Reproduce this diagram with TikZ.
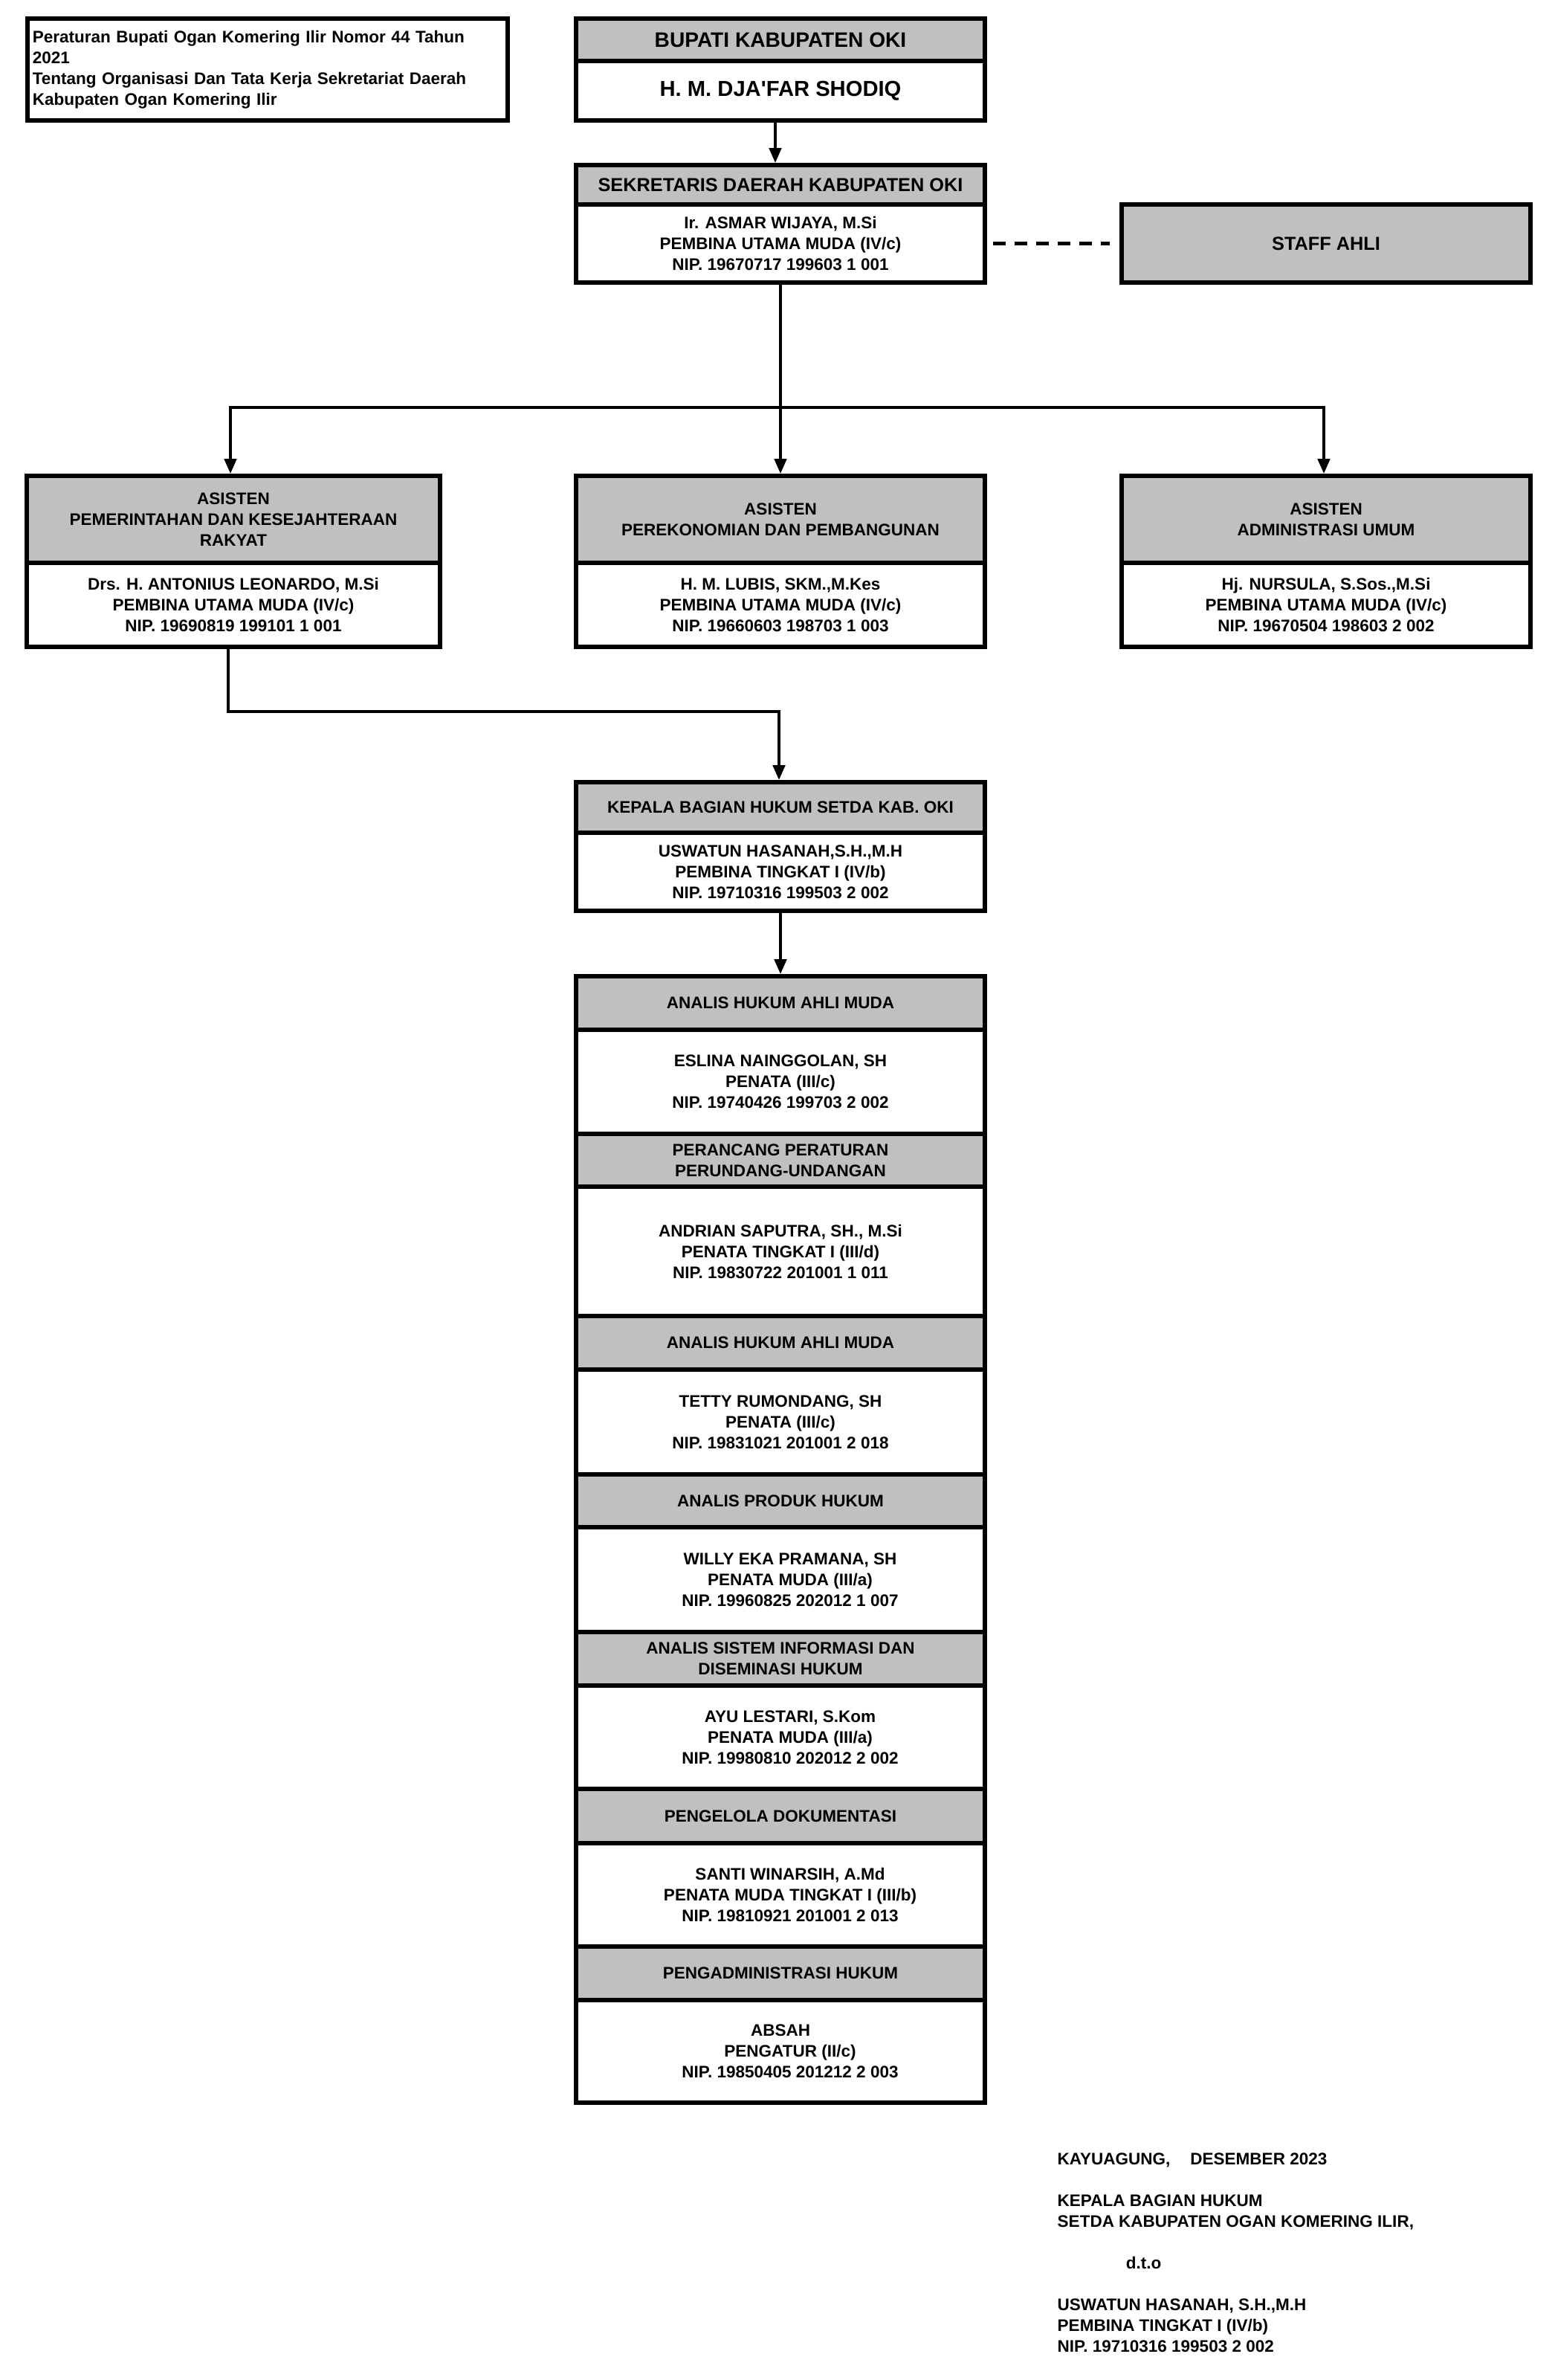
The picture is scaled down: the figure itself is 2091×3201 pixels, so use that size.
\documentclass[tikz,border=0pt]{standalone}
\usepackage{fontspec}
\setmainfont{Liberation Sans}
\newfontfamily\rawfont{Liberation Sans}
\usetikzlibrary{arrows.meta}
\definecolor{boxgray}{RGB}{192,192,192}
\newcommand\fnorm{\fontsize{6.4pt}{7.97pt}\selectfont\bfseries}
\newcommand\fmid{\fontsize{7.2pt}{8.5pt}\selectfont\bfseries}
\newcommand\fbupati{\fontsize{8.0pt}{9pt}\selectfont\bfseries}
\newcommand\fbigname{\fontsize{8.3pt}{10pt}\selectfont\bfseries}
\newcommand\sh{\hspace*{0.26cm}}
\begin{document}
\begin{tikzpicture}[x=0.01cm,y=-0.01cm,
  box/.style={draw=black, line width=1.56pt, inner sep=0pt, align=center, font=\fnorm, minimum width=5.5cm},
  hdr/.style={box, fill=boxgray},
  bdy/.style={box, fill=white},
  conn/.style={line width=1.25pt},
  arr/.style={conn, -{Triangle[length=0.2cm,width=0.16cm]}}]
\useasboundingbox (0,0) rectangle (2091,3201);

% legend
\node[draw=black, line width=1.56pt, inner xsep=0.07cm, inner ysep=0pt, text width=6.32cm, minimum height=1.37cm, align=left, font=\fnorm] (legend) at (360,93.5)
 {Peraturan Bupati Ogan Komering Ilir Nomor 44 Tahun\\2021\\Tentang Organisasi Dan Tata Kerja Sekretariat Daerah\\Kabupaten Ogan Komering Ilir};

% bupati
\node[hdr, font=\fbupati, minimum height=0.57cm] (bh) at (1050,53.5) {BUPATI KABUPATEN OKI};
\node[bdy, font=\fbigname, minimum height=0.80cm] (bb) at (1050,122) {H. M. DJA{\rawfont\bfseries '}FAR SHODIQ};

% sekda
\node[hdr, font=\fmid, minimum height=0.53cm] (sh) at (1050,248.5) {SEKRETARIS DAERAH KABUPATEN OKI};
\node[bdy, minimum height=1.05cm] (sb) at (1050,327.5) {Ir. ASMAR WIJAYA, M.Si\\PEMBINA UTAMA MUDA (IV/c)\\NIP. 19670717 199603 1 001};

% staff ahli
\node[hdr, font=\fmid, minimum height=1.05cm] (staff) at (1784,327.5) {STAFF AHLI};

% asisten
\node[hdr, minimum width=5.56cm, minimum height=1.17cm] (a1h) at (314,698.5) {ASISTEN\\PEMERINTAHAN DAN KESEJAHTERAAN\\RAKYAT};
\node[bdy, minimum width=5.56cm, minimum height=1.13cm] (a1b) at (314,813.5) {Drs. H. ANTONIUS LEONARDO, M.Si\\PEMBINA UTAMA MUDA (IV/c)\\NIP. 19690819 199101 1 001};
\node[hdr, minimum height=1.17cm] (a2h) at (1050,698.5) {ASISTEN\\PEREKONOMIAN DAN PEMBANGUNAN};
\node[bdy, minimum height=1.13cm] (a2b) at (1050,813.5) {H. M. LUBIS, SKM.,M.Kes\\PEMBINA UTAMA MUDA (IV/c)\\NIP. 19660603 198703 1 003};
\node[hdr, minimum height=1.17cm] (a3h) at (1784,698.5) {ASISTEN\\ADMINISTRASI UMUM};
\node[bdy, minimum height=1.13cm] (a3b) at (1784,813.5) {Hj. NURSULA, S.Sos.,M.Si\\PEMBINA UTAMA MUDA (IV/c)\\NIP. 19670504 198603 2 002};

% kepala bagian
\node[hdr, minimum height=0.68cm] (kh) at (1050,1086) {KEPALA BAGIAN HUKUM SETDA KAB. OKI};
\node[bdy, minimum height=1.05cm] (kb) at (1050,1172.5) {USWATUN HASANAH,S.H.,M.H\\PEMBINA TINGKAT I (IV/b)\\NIP. 19710316 199503 2 002};

% list
\node[hdr, minimum height=0.72cm] (l1h) at (1050,1349) {ANALIS HUKUM AHLI MUDA};
\node[bdy, minimum height=1.40cm] (l1b) at (1050,1455) {ESLINA NAINGGOLAN, SH\\PENATA (III/c)\\NIP. 19740426 199703 2 002};
\node[hdr, minimum height=0.71cm] (l2h) at (1050,1560.5) {PERANCANG PERATURAN\\PERUNDANG-UNDANGAN};
\node[bdy, minimum height=1.74cm] (l2b) at (1050,1683) {ANDRIAN SAPUTRA, SH., M.Si\\PENATA TINGKAT I (III/d)\\NIP. 19830722 201001 1 011};
\node[hdr, minimum height=0.72cm] (l3h) at (1050,1806) {ANALIS HUKUM AHLI MUDA};
\node[bdy, minimum height=1.41cm] (l3b) at (1050,1912.5) {TETTY RUMONDANG, SH\\PENATA (III/c)\\NIP. 19831021 201001 2 018};
\node[hdr, minimum height=0.71cm] (l4h) at (1050,2018.5) {ANALIS PRODUK HUKUM};
\node[bdy, minimum height=1.41cm] (l4b) at (1050,2124.5) {\sh WILLY EKA PRAMANA, SH\\\sh PENATA MUDA (III/a)\\\sh NIP. 19960825 202012 1 007};
\node[hdr, minimum height=0.72cm] (l5h) at (1050,2231) {ANALIS SISTEM INFORMASI DAN\\DISEMINASI HUKUM};
\node[bdy, minimum height=1.39cm] (l5b) at (1050,2336.5) {\sh AYU LESTARI, S.Kom\\\sh PENATA MUDA (III/a)\\\sh NIP. 19980810 202012 2 002};
\node[hdr, minimum height=0.73cm] (l6h) at (1050,2442.5) {PENGELOLA DOKUMENTASI};
\node[bdy, minimum height=1.39cm] (l6b) at (1050,2548.5) {\sh SANTI WINARSIH, A.Md\\\sh PENATA MUDA TINGKAT I (III/b)\\\sh NIP. 19810921 201001 2 013};
\node[hdr, minimum height=0.72cm] (l7h) at (1050,2654) {PENGADMINISTRASI HUKUM};
\node[bdy, minimum height=1.38cm] (l7b) at (1050,2759) {ABSAH\\\sh PENGATUR (II/c)\\\sh NIP. 19850405 201212 2 003};

% signature
\node[anchor=north west, align=left, font=\fnorm, inner sep=0pt] (sig) at (1422,2895)
 {KAYUAGUNG,\hspace{0.27cm}DESEMBER 2023\\[7.97pt]KEPALA BAGIAN HUKUM\\SETDA KABUPATEN OGAN KOMERING ILIR,\\[7.97pt]\hspace*{0.92cm}d.t.o\\[7.97pt]USWATUN HASANAH, S.H.,M.H\\PEMBINA TINGKAT I (IV/b)\\NIP. 19710316 199503 2 002};

% connectors
\draw[arr] ([xshift=-0.07cm]bb.south) -- ([xshift=-0.07cm]sh.north);
\coordinate (bus) at (1050,548);
\draw[conn] (sb.south) -- (bus);
\draw[arr] (bus) -| ([xshift=-0.04cm]a1h.north);
\draw[arr] (bus) -- (a2h.north);
\draw[arr] (bus) -| ([xshift=-0.03cm]a3h.north);
\draw[arr] ([xshift=-0.07cm]a1b.south) -- ++(0,84) -| ([xshift=-0.02cm]kh.north);
\draw[arr] (kb.south) -- (l1h.north);
\draw[conn, dash pattern=on 0.17cm off 0.12cm, shorten <=0.08cm, shorten >=0.13cm] (sb.east) -- (staff.west);
\end{tikzpicture}
\end{document}
